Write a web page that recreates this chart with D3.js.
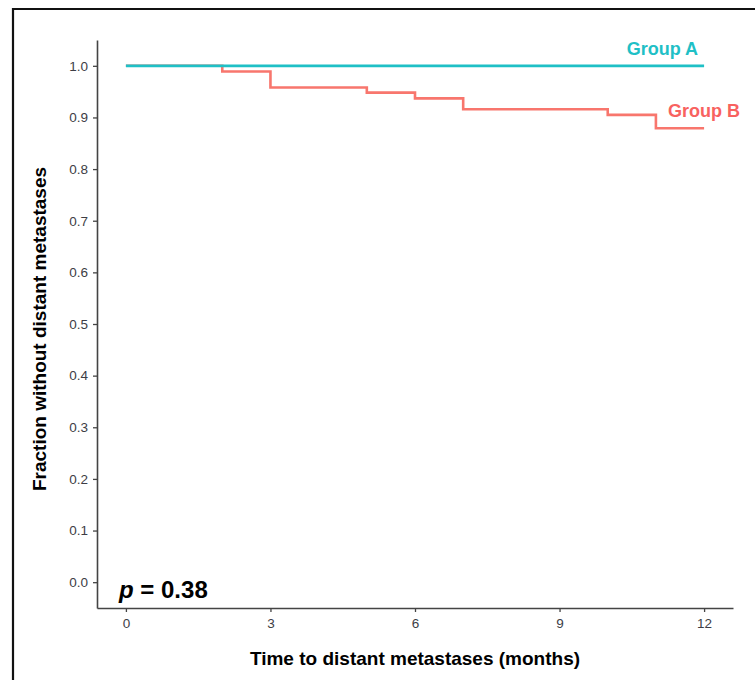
<!DOCTYPE html>
<html>
<head>
<meta charset="utf-8">
<script src="https://cdn.jsdelivr.net/npm/d3@7"></script>
<style>
html,body{margin:0;padding:0;background:#fff;}
svg{display:block;}
text{font-family:"Liberation Sans",Arial,sans-serif;}
</style>
</head>
<body>
<svg id="chart" width="755" height="680"></svg>
<script>
// ---- data ----
const groupATimes = [0, 12];
const groupAValues = [1.0, 1.0];
const groupBTimes = [0, 2, 3, 5, 6, 7, 10, 11, 12];
const groupBValues = [1.0, 0.989, 0.958, 0.948, 0.937, 0.916, 0.905, 0.879, 0.879];
const xTicks = [0, 3, 6, 9, 12];
const yTicks = [0.0, 0.1, 0.2, 0.3, 0.4, 0.5, 0.6, 0.7, 0.8, 0.9, 1.0];
const groupNames = ["Group A", "Group B"];
const groupColors = ["#1fc0c6", "#f8766d"];
const pText = "0.38";

const svg = d3.select("#chart");

// frame border
svg.append("path")
  .attr("d", "M13,760 L13,9 L760,9")
  .attr("fill", "none").attr("stroke", "#111").attr("stroke-width", 2.2);

const x = d3.scaleLinear().domain([-0.6, 12.6]).range([97, 733]);
const y = d3.scaleLinear().domain([-0.05, 1.05]).range([608, 40]);

// axes
const xAxis = d3.axisBottom(x).tickValues(xTicks).tickSize(4).tickSizeOuter(0).tickPadding(6).tickFormat(d3.format("d"));
const yAxis = d3.axisLeft(y).tickValues(yTicks).tickSize(4).tickSizeOuter(0).tickPadding(5).tickFormat(d3.format(".1f"));

const gx = svg.append("g").attr("transform", "translate(0,608)").call(xAxis);
const gy = svg.append("g").attr("transform", "translate(97,0)").call(yAxis);
[gx, gy].forEach(g => {
  g.attr("font-size", null);
  g.select(".domain").attr("stroke", "#444").attr("stroke-width", 1.6);
  g.selectAll(".tick line").attr("stroke", "#444").attr("stroke-width", 1.3);
  g.selectAll(".tick text").attr("fill", "#3d3d45").style("font-size", "13.5px")
    .style("font-family", "'Liberation Sans', Arial, sans-serif");
});

// step lines (B first so A sits on top)
const line = d3.line().curve(d3.curveStepAfter).x(d => x(d[0])).y(d => y(d[1]));
const dataA = groupATimes.map((t, i) => [t, groupAValues[i]]);
const dataB = groupBTimes.map((t, i) => [t, groupBValues[i]]);
svg.append("path").datum(dataB).attr("d", line)
  .attr("fill", "none").attr("stroke", groupColors[1]).attr("stroke-width", 2.6);
svg.append("path").datum(dataA).attr("d", line)
  .attr("fill", "none").attr("stroke", groupColors[0]).attr("stroke-width", 2.8);

// group labels
svg.append("text").attr("x", 698).attr("y", 55).attr("text-anchor", "end")
  .attr("fill", groupColors[0]).style("font-weight", "bold").style("font-size", "18px")
  .text(groupNames[0]);
svg.append("text").attr("x", 740).attr("y", 117).attr("text-anchor", "end")
  .attr("fill", "#f8625f").style("font-weight", "bold").style("font-size", "18px")
  .text(groupNames[1]);

// p-value
const pt = svg.append("text").attr("x", 119).attr("y", 598)
  .style("font-weight", "bold").style("font-size", "24px").attr("fill", "#000");
pt.append("tspan").style("font-style", "italic").text("p");
pt.append("tspan").text(" = " + pText);

// axis titles
svg.append("text").attr("x", 415).attr("y", 665).attr("text-anchor", "middle")
  .style("font-weight", "bold").style("font-size", "19px").attr("fill", "#000")
  .text("Time to distant metastases (months)");
svg.append("text").attr("transform", "translate(46,329) rotate(-90)").attr("text-anchor", "middle")
  .style("font-weight", "bold").style("font-size", "19px").attr("fill", "#000")
  .text("Fraction without distant metastases");
</script>
</body>
</html>
